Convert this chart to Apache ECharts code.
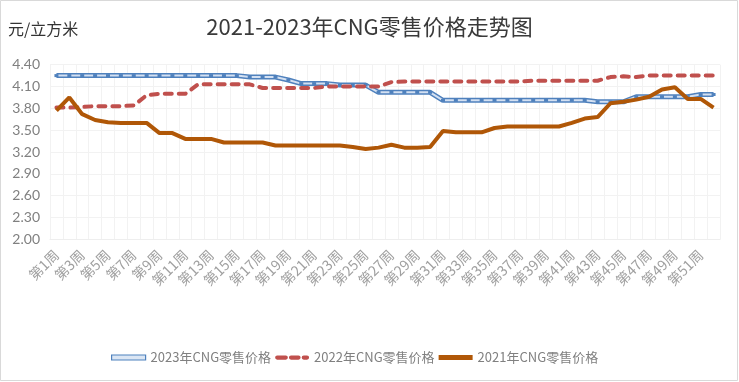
<!DOCTYPE html>
<html><head><meta charset="utf-8">
<script src="https://cdn.jsdelivr.net/npm/echarts@6/dist/echarts.min.js"></script>
<style>html,body{margin:0;padding:0;background:#fff}#c{width:739px;height:382px}</style>
</head><body><div id="c"></div>
<script>
const weeks = ['第1周','第2周','第3周','第4周','第5周','第6周','第7周','第8周','第9周','第10周',
  '第11周','第12周','第13周','第14周','第15周','第16周','第17周','第18周','第19周','第20周',
  '第21周','第22周','第23周','第24周','第25周','第26周','第27周','第28周','第29周','第30周',
  '第31周','第32周','第33周','第34周','第35周','第36周','第37周','第38周','第39周','第40周',
  '第41周','第42周','第43周','第44周','第45周','第46周','第47周','第48周','第49周','第50周',
  '第51周','第52周'];
const price2023 = [4.25,4.25,4.25,4.25,4.25,4.25,4.25,4.25,4.25,4.25,
  4.25,4.25,4.25,4.25,4.25,4.23,4.23,4.23,4.19,4.14,
  4.14,4.14,4.12,4.12,4.12,4.02,4.02,4.02,4.02,4.02,
  3.91,3.91,3.91,3.91,3.91,3.91,3.91,3.91,3.91,3.91,
  3.91,3.91,3.89,3.89,3.89,3.96,3.96,3.96,3.96,3.96,
  3.99,3.99];
const price2022 = [3.81,3.81,3.82,3.83,3.83,3.83,3.84,3.98,4.00,4.00,
  4.00,4.13,4.13,4.13,4.13,4.13,4.08,4.08,4.08,4.08,
  4.08,4.10,4.10,4.10,4.10,4.10,4.16,4.17,4.17,4.17,
  4.17,4.17,4.17,4.17,4.17,4.17,4.17,4.18,4.18,4.18,
  4.18,4.18,4.18,4.23,4.24,4.23,4.25,4.25,4.25,4.25,
  4.25,4.25];
const price2021 = [3.77,3.95,3.72,3.64,3.61,3.60,3.60,3.60,3.46,3.46,
  3.38,3.38,3.38,3.33,3.33,3.33,3.33,3.29,3.29,3.29,
  3.29,3.29,3.29,3.27,3.24,3.26,3.30,3.26,3.26,3.27,
  3.49,3.47,3.47,3.47,3.53,3.55,3.55,3.55,3.55,3.55,
  3.60,3.66,3.68,3.87,3.89,3.92,3.96,4.06,4.09,3.93,
  3.93,3.81];
const seriesNames = ['2023年CNG零售价格','2022年CNG零售价格','2021年CNG零售价格'];
const titleText = '2021-2023年CNG零售价格走势图';
const unitText = '元/立方米';

const FONT = '"Noto Sans CJK SC", sans-serif';
const chart = echarts.init(document.getElementById('c'), null, {renderer:'canvas'});
chart.setOption({
  animation:false,
  backgroundColor:'#ffffff',
  title:{text:titleText, left:'center', top:11,
    textStyle:{fontFamily:FONT, fontSize:22, fontWeight:'normal', color:'#3a3a3a'}},
  graphic:[
    {type:'rect', silent:true, shape:{x:0.5,y:0.5,width:737,height:380},
      style:{fill:'none', stroke:'#d9d9d9', lineWidth:1}},
    {type:'text', left:8, top:21, silent:true,
      style:{text:unitText, font:'16px "Noto Sans CJK SC"', fill:'#333333'}}
  ],
  grid:{left:50, right:19, top:64.7, bottom:142.7},
  legend:{
    left:106, top:346, itemWidth:34, itemHeight:5, itemGap:4,
    textStyle:{fontFamily:FONT, fontSize:13, color:'#808080'},
    data:[
      {name:seriesNames[0], icon:'rect', itemStyle:{color:'#dbe6f4', borderColor:'#4f81bd', borderWidth:1.2}},
      {name:seriesNames[1], icon:'path://M2,0h8a2,2 0 0 1 0,4h-8a2,2 0 0 1 0,-4z M15,0h7a2,2 0 0 1 0,4h-7a2,2 0 0 1 0,-4z M27,0h3a2,2 0 0 1 0,4h-3a2,2 0 0 1 0,-4z',
        itemStyle:{color:'#c0504d', borderWidth:0}},
      {name:seriesNames[2], icon:'rect', itemStyle:{color:'#b05707', borderWidth:0}}
    ]
  },
  xAxis:{type:'category', data:weeks, boundaryGap:true,
    axisLine:{lineStyle:{color:'#eeeeee'}}, axisTick:{show:false},
    axisLabel:{interval:1, rotate:45, color:'#a0a0a0', fontSize:14, fontFamily:FONT, margin:13},
    splitLine:{show:true, interval:0, lineStyle:{color:'#f2f2f2'}}},
  yAxis:{type:'value', min:2, max:4.4, interval:0.3,
    axisLine:{show:false}, axisTick:{show:false},
    axisLabel:{formatter:v=>v.toFixed(2), color:'#808080', fontSize:14, fontFamily:'Lato', margin:10},
    splitLine:{lineStyle:{color:'#f2f2f2'}}},
  series:[
    {name:seriesNames[0], type:'line', data:price2023, symbol:'none', z:2,
      lineStyle:{color:'#4f81bd', width:5}},
    {name:seriesNames[0], type:'line', data:price2023, symbol:'rect', symbolSize:[4,3], z:3,
      itemStyle:{color:'#4f81bd'}, lineStyle:{color:'#d3e0f2', width:2}},
    {name:seriesNames[1], type:'line', data:price2022, symbol:'none', z:4,
      lineStyle:{color:'#c0504d', width:4, type:[7,7], cap:'round'}},
    {name:seriesNames[2], type:'line', data:price2021, symbol:'none', z:5,
      lineStyle:{color:'#b05707', width:4}}
  ]
});
</script></body></html>
